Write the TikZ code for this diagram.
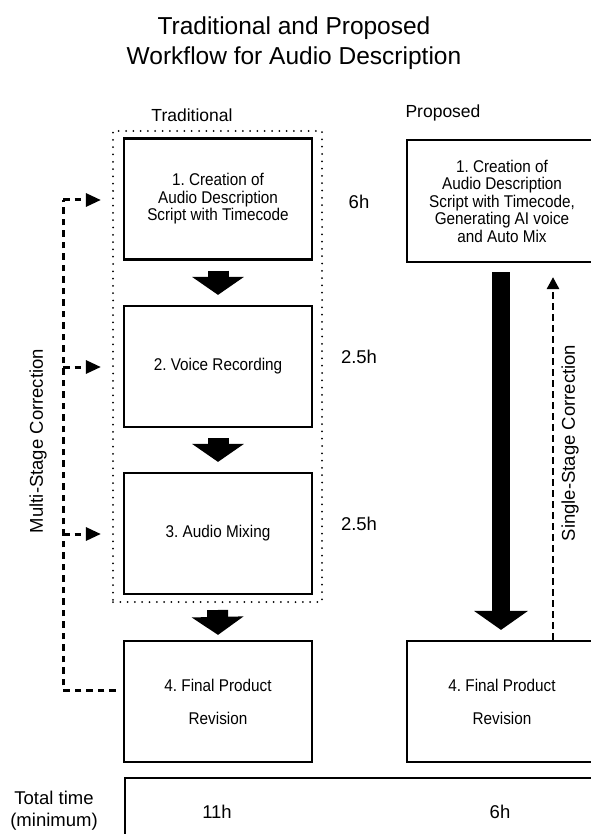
\documentclass[tikz,border=0pt]{standalone}
\usepackage{fontspec}
\setmainfont{Liberation Sans}
\newfontfamily\boxfont[FakeStretch=0.9]{Liberation Sans}
\usetikzlibrary{arrows.meta,calc}
\frenchspacing
\begin{document}
\begin{tikzpicture}[x=1pt,y=-1pt,
  box/.style={draw, line width=2.2pt, minimum width=188pt, minimum height=121pt, inner sep=0pt, align=center, font=\boxfont\fontsize{17}{17.5}\selectfont},
  fat/.style={line width=21pt, -{Triangle[length=18pt,width=51pt]}},
  dashline/.style={line width=3pt, dash pattern=on 6.5pt off 5pt},
  stubtip/.style={-{Triangle[length=15pt,width=13pt]}},
  lbl/.style={font=\fontsize{18.5}{22}\selectfont},
  dotframe/.style={draw, line width=2pt, line cap=round, dash pattern=on 0pt off 7.3pt, inner sep=0pt}]
\useasboundingbox (0,0) rectangle (590,834);

% title
\node[font=\fontsize{24.5}{30}\selectfont, align=center] (title) at (294,43) {Traditional and Proposed\\Workflow for Audio Description};
\node[font=\fontsize{17.5}{20}\selectfont] (trad) at (192,115) {Traditional};
\node[font=\fontsize{17.5}{20}\selectfont] (prop) at (443,113) {Proposed};

% dotted frame
\node[dotframe, minimum width=209pt, minimum height=471pt] (frame) at (217.5,366.5) {};

% traditional boxes
\node[box] (t1) at (218,199) {1. Creation of\\Audio Description\\Script with Timecode};
\node[box] (t2) at (218,366.5) {2. Voice Recording};
\node[box] (t3) at (218,533.5) {3. Audio Mixing};
\node[box] (t4) at (218,701.5) {4. Final Product\\[15.5pt]Revision};

% proposed boxes
\node[box, minimum width=190pt, minimum height=122pt] (p1) at (502,201) {1. Creation of\\Audio Description\\Script with Timecode,\\Generating AI voice\\and Auto Mix};
\node[box, minimum width=190pt] (p4) at (502,701.5) {4. Final Product\\[15.5pt]Revision};

% fat arrows
\draw[fat] ($(t1.south)+(0,10)$) -- ($(t2.north)+(0,-10)$);
\draw[fat] ($(t2.south)+(0,10)$) -- ($(t3.north)+(0,-10)$);
\draw[fat] ($(frame.south)+(0,7)$) -- ($(t4.north)+(0,-5)$);
\draw[line width=18pt, -{Triangle[length=19pt,width=53pt]}] ($(p1.south)+(-1,9)$) -- ($(p4.north)+(-1,-10)$);

% time labels
\node[lbl] (h1) at (359,202) {6h};
\node[lbl] (h2) at (359,357) {2.5h};
\node[lbl] (h3) at (359,524) {2.5h};

% multi-stage correction
\coordinate (cb) at (63,690);
\coordinate (ct) at (63,200);
\draw[dashline] ($(t4.west)+(-7,-11.5)$) -- (cb) -- (ct);
\draw[dashline, stubtip] (ct) -- ($(t1.west)+(-22,1)$);
\draw[dashline, stubtip] (63,367) -- ($(t2.west)+(-22,0.5)$);
\draw[dashline, stubtip] (63,534) -- ($(t3.west)+(-22,0.5)$);
\node[lbl, rotate=90] (multi) at (38,441) {Multi-Stage Correction};

% single-stage correction
\draw[line width=2.7pt, dash pattern=on 6.5pt off 4.5pt, -{Triangle[length=12pt,width=12pt]}] ($(p4.north)+(51,0)$) -- ($(p1.south)+(51,14)$);
\node[lbl, rotate=90] (single) at (570,443) {Single-Stage Correction};

% total time
\node[draw, line width=2.2pt, minimum width=476pt, minimum height=90pt, anchor=north west, inner sep=0pt] (tot) at (124,777) {};
\node[lbl, align=center, font=\fontsize{18.5}{22}\selectfont] (tt) at (54,811) {Total time\\(minimum)};
\node[lbl] (t11) at (217,812) {11h};
\node[lbl] (t6) at (500,812) {6h};
\end{tikzpicture}
\end{document}
